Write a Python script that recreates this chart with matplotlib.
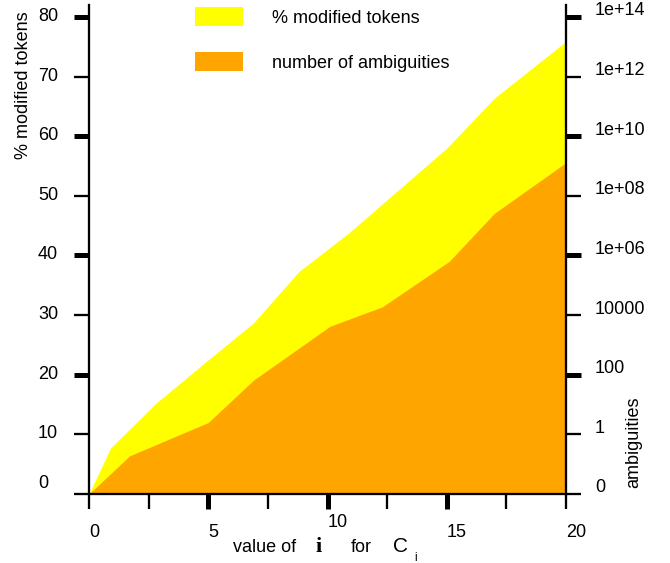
import matplotlib
matplotlib.use("Agg")
import matplotlib.pyplot as plt
from matplotlib.patches import Patch
from matplotlib.transforms import ScaledTranslation
from matplotlib.ticker import NullLocator

plt.rcParams['font.family'] = ['Liberation Sans', 'DejaVu Sans']

# ---------------- data ----------------
tok_x = [0, 0.9, 2.8, 5.0, 6.9, 8.8, 10.9, 15.0, 17.0, 20.0]
tok_pct = [0, 7.7, 15.2, 22.5, 28.7, 37.3, 43.8, 58.0, 66.4, 75.9]

amb_x = [0, 1.7, 5.0, 6.9, 10.1, 12.3, 15.1, 17.0, 20.0]
amb_val = [0.01, 0.19, 2.5, 66, 4200, 19000, 6.3e5, 2.6e7, 1.3e9]

x_ticks = [0, 2.5, 5, 7.5, 10, 12.5, 15, 17.5, 20]
x_labels = ['0', '', '5', '', '10', '', '15', '', '20']
x_thick = [5, 10, 15]

l_ticks = [0, 10, 20, 30, 40, 50, 60, 70, 80]
l_labels = ['0', '10', '20', '30', '40', '50', '60', '70', '80']
l_thick = [20, 40, 60, 80]

r_ticks = [1e-2, 1, 1e2, 1e4, 1e6, 1e8, 1e10, 1e12, 1e14]
r_labels = ['0', '1', '100', '10000', '1e+06', '1e+08', '1e+10', '1e+12', '1e+14']
r_thick = [1e2, 1e6, 1e10, 1e14]

legend_labels = ['% modified tokens', 'number of ambiguities']
yellow = '#FFFF00'
orange = '#FFA500'

# ---------------- figure ----------------
W, H = 670, 563
DPI = 100
fig = plt.figure(figsize=(W / DPI, H / DPI), dpi=DPI)
L, R, B, T = 89, 566, 494, 5
ax = fig.add_axes([L / W, 1 - B / H, (R - L) / W, (B - T) / H])

ax.fill_between(tok_x, 0, tok_pct, color=yellow, lw=0)
ax.set_xlim(0, 20)
ax.set_ylim(0, 82)

ax2 = ax.twinx()
ax2.set_yscale('log')
ax2.set_ylim(1e-2, 10 ** 14.4)
ax2.fill_between(amb_x, 1e-2, amb_val, color=orange, lw=0)

spw = 1.65
for s in ['top', 'right', 'bottom']:
    ax.spines[s].set_visible(False)
ax.spines['left'].set_linewidth(spw)
for s in ['top', 'left']:
    ax2.spines[s].set_visible(False)
ax2.spines['right'].set_linewidth(spw)
ax2.spines['bottom'].set_linewidth(spw)

tl = 10.8
thin = 1.65
thick = 3.6
fs = 13

def px(v):
    return ScaledTranslation(0, v / DPI, fig.dpi_scale_trans)

# x axis
ax.set_xticks(x_ticks, x_labels)
ax.tick_params(axis='x', direction='out', length=tl, width=thin, pad=11.0, labelsize=fs)
for t, loc in zip(ax.xaxis.get_major_ticks(), x_ticks):
    if loc in x_thick:
        t.tick1line.set_markeredgewidth(thick)
    t.label1.set_ha('left')
    if loc == 10:
        t.label1.set_transform(t.label1.get_transform() + px(10))

# left axis
ax.set_yticks(l_ticks, l_labels)
ax.tick_params(axis='y', direction='out', length=tl, width=thin, pad=25.9, labelsize=fs)
for t, loc in zip(ax.yaxis.get_major_ticks(), l_ticks):
    if loc in l_thick:
        t.tick1line.set_markeredgewidth(thick)
    t.label1.set_ha('left')
    dy = 12 if loc == 0 else 2.5
    t.label1.set_transform(t.label1.get_transform() + px(dy))

# right axis
ax2.yaxis.set_minor_locator(NullLocator())
ax2.set_yticks(r_ticks, r_labels)
ax2.yaxis.set_minor_locator(NullLocator())
ax2.tick_params(axis='y', direction='out', length=tl, width=thin, pad=10.0, labelsize=fs)
for t, loc in zip(ax2.yaxis.get_major_ticks(), r_ticks):
    if loc in r_thick:
        t.tick2line.set_markeredgewidth(thick)
    t.label2.set_transform(t.label2.get_transform() + px(8))

# axis labels
ax.set_ylabel('% modified tokens', fontsize=fs)
ax.yaxis.set_label_coords((32 - L) / (R - L), (B - 85) / (B - T))
ax.yaxis.label.set_va('bottom')
ax2.set_ylabel('ambiguities', fontsize=fs)
ax2.yaxis.set_label_coords((625 - L) / (R - L), (B - 442) / (B - T))

def ftext(x, y, s, **kw):
    fig.text(x / W, 1 - y / H, s, va='baseline', ha='left', **kw)

ftext(233, 551.5, 'value of', fontsize=fs)
ftext(316, 551.5, 'i', fontsize=16, family=['Liberation Serif'], fontweight='bold')
ftext(351, 551.5, 'for', fontsize=fs)
ftext(393, 551.5, 'C', fontsize=15)
ftext(414, 561, 'i', fontsize=8.5)

# legend
handles = [Patch(facecolor=yellow, edgecolor='none'), Patch(facecolor=orange, edgecolor='none')]
fs_px = fs * DPI / 72
ax2.legend(handles, legend_labels, loc='upper left',
           bbox_to_anchor=(195 / W, 1 - 7 / H), bbox_transform=fig.transFigure,
           frameon=False, fontsize=fs, borderpad=0, borderaxespad=0,
           handlelength=48 / fs_px, handleheight=23 / fs_px,
           handletextpad=29 / fs_px, labelspacing=1.4)

fig.savefig('out.png', dpi=DPI)
